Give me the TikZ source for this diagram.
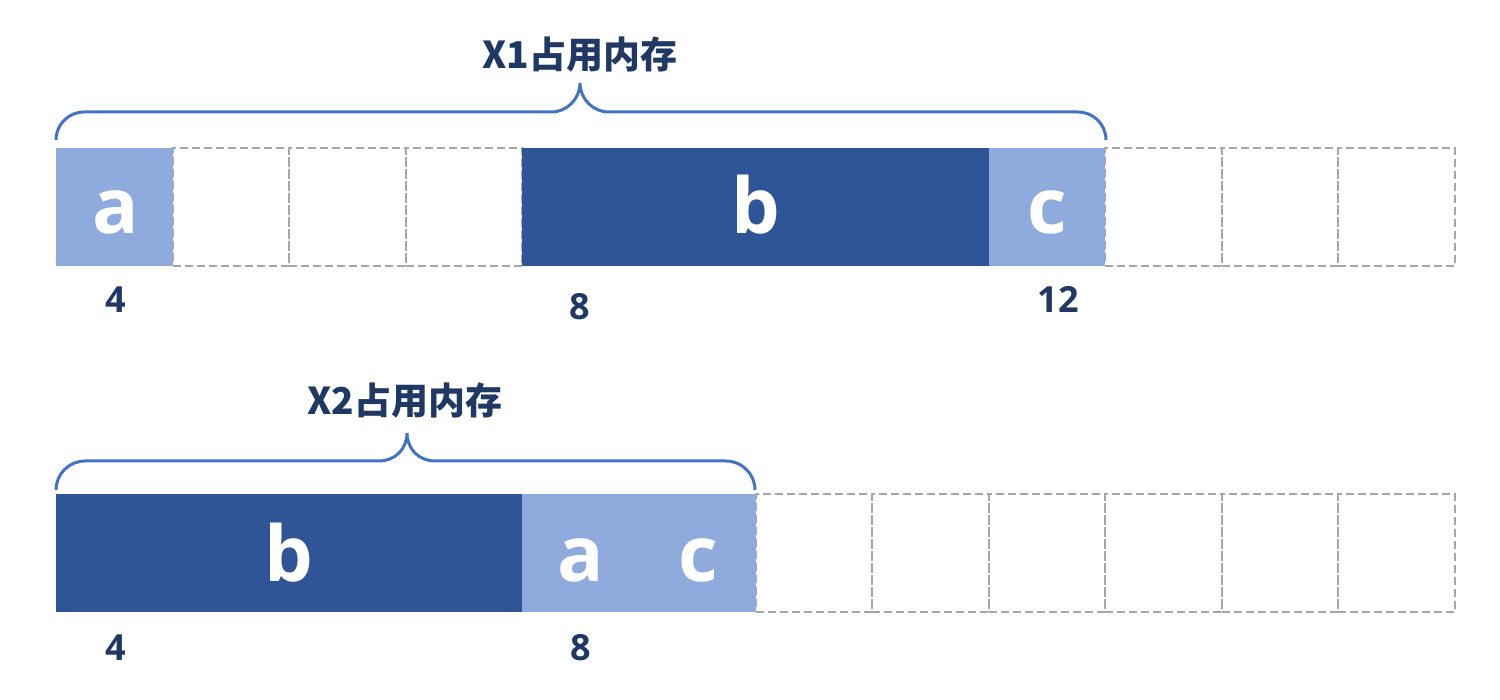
\documentclass[tikz,border=0pt]{standalone}
\usepackage{fontspec}
\setmainfont{Open Sans}
\newfontfamily\cjk{Noto Sans CJK SC}
\definecolor{darkb}{HTML}{2F5597}
\definecolor{lightb}{HTML}{8FAADC}
\definecolor{braceb}{HTML}{4472C4}
\definecolor{navy}{HTML}{203864}
\definecolor{dashgray}{HTML}{A6A6A6}
\def\cw{116.583}
\tikzset{
  cell/.style={draw=dashgray, dash pattern=on 8pt off 4pt, line width=2pt,
    minimum width=116.583pt, minimum height=118pt, inner sep=0pt, outer sep=0pt, anchor=north west},
  darkblk/.style={fill=darkb, inner sep=0pt, outer sep=0pt, minimum height=118pt, anchor=north west},
  lightblk/.style={fill=lightb, inner sep=0pt, outer sep=0pt, minimum height=118pt, anchor=north west},
  letter/.style={text=white, font=\bfseries\fontsize{77}{77}\selectfont, anchor=base, inner sep=0pt},
  num/.style={text=navy, font=\bfseries\fontsize{36}{36}\selectfont, anchor=base, inner sep=0pt},
  ttl/.style={text=navy, font=\cjk\bfseries\fontsize{37}{37}\selectfont, anchor=base, inner sep=0pt},
  brace/.style={draw=braceb, line width=3pt}
}
\begin{document}
\begin{tikzpicture}[x=1pt,y=-1pt]
\useasboundingbox[fill=white] (0,0) rectangle (1500,700);
% ---- row 1 ----
\foreach \i in {1,2,3,9,10,11} \node[cell] (r1c\i) at ({56+\i*\cw},148) {};
\node[lightblk, minimum width=116.583pt] (a1) at (56,148) {};
\node[darkblk, minimum width=466.33pt] (b1) at ({56+4*\cw},148) {};
\node[lightblk, minimum width=116.583pt] (c1) at ({56+8*\cw},148) {};
\node[letter] (la1) at (116,234) {a};
\node[letter] (lb1) at (755.5,234) {b};
\node[letter] (lc1) at (1047,234) {c};
\node[num] (n4a) at (116,313) {4};
\node[num] (n8a) at (580,320) {8};
\node[num] (n12a) at (1058,313) {12};
% brace 1
\draw[brace] (56,140) .. controls (56,124.5) and (68.5,112) .. (84,112)
  -- (551,112) .. controls (567,112) and (580,99) .. (580,83)
  .. controls (580,99) and (593,112) .. (609,112)
  -- (1078,112) .. controls (1093.5,112) and (1106,124.5) .. (1106,140);
\node[ttl] (t1) at (580,69) {X1占用内存};
% ---- row 2 ----
\foreach \i in {6,...,11} \node[cell] (r2c\i) at ({56+\i*\cw},494) {};
\node[darkblk, minimum width=466.33pt] (b2) at (56,494) {};
\node[lightblk, minimum width=233.17pt] (ac2) at ({56+4*\cw},494) {};
\node[letter] (lb2) at (289,581) {b};
\node[letter] (la2) at (580.6,581) {a};
\node[letter] (lc2) at (698,581) {c};
\node[num] (n4b) at (116,660) {4};
\node[num] (n8b) at (581,660) {8};
% brace 2
\draw[brace] (56,490) .. controls (56,474) and (69,461) .. (85,461)
  -- (379,461) .. controls (395,461) and (407,449) .. (407,433)
  .. controls (407,449) and (419,461) .. (435,461)
  -- (726,461) .. controls (742,461) and (755,474) .. (755,490);
\node[ttl] (t2) at (405,415) {X2占用内存};
\end{tikzpicture}
\end{document}
